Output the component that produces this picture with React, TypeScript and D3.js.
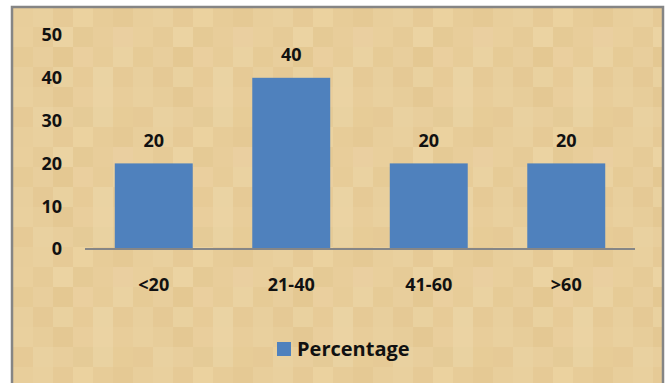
import React from "react";
import * as d3 from "d3";

const categories = ["<20", "21-40", "41-60", ">60"];
const percentage = [20, 40, 20, 20];
const yTicks = [0, 10, 20, 30, 40, 50];
const seriesName = "Percentage";

// parchment tile shades (decoration only)
const tileShades = [
  "#e8ce9b", "#e9d09e", "#e6ca96", "#ebd29f", "#e7cc98", "#e5c994",
  "#e9cf9c", "#e6cb97", "#ebd3a2", "#e5ca95", "#e8cd9a", "#eacfa0",
  "#e6cb96", "#e8ce9c", "#e4c892", "#eacf9e", "#e7cc98", "#ead2a1",
  "#e8cf9d", "#e5c995", "#e9d19f", "#e7cb97", "#ead3a3", "#e6ca96",
  "#e9d09e", "#e7cd9a", "#e4c893", "#e9ce9c", "#ebd3a3", "#e8cd9a",
  "#e6ca96", "#e9d1a0", "#e8ce9c", "#e5cb97", "#e9d2a1", "#e7cc97",
];

const font = "'Open Sans', sans-serif";

export default function App() {
  const W = 666, H = 383;
  const x = d3.scaleBand<string>()
    .domain(categories)
    .range([85, 635])
    .paddingInner(0.433)
    .paddingOuter(0.2165);
  const y = d3.scaleLinear().domain([0, 50]).range([249, 35]);

  return (
    <svg width={W} height={H} style={{ position: "absolute", left: 0, top: 0 }}>
      <defs>
        <pattern id="parch" width={120} height={120} patternUnits="userSpaceOnUse" x={13} y={7}>
          {tileShades.map((c, i) => (
            <rect key={i} x={(i % 6) * 20} y={Math.floor(i / 6) * 20} width={20} height={20} fill={c} />
          ))}
        </pattern>
      </defs>
      <rect x={12} y={7} width={651} height={390} fill="url(#parch)" stroke="#858585" strokeWidth={2.5} />

      {yTicks.map((t) => (
        <text key={t} x={62} y={y(t)} dy="0.36em" textAnchor="end"
          fontFamily={font} fontWeight="bold" fontSize={18} fill="#111">{t}</text>
      ))}

      {percentage.map((v, i) => (
        <g key={categories[i]}>
          <rect x={x(categories[i])} y={y(v)} width={x.bandwidth()} height={y(0) - y(v)} fill="#4f81bd" />
          <text x={(x(categories[i]) as number) + x.bandwidth() / 2} y={y(v) - 23} dy="0.36em"
            textAnchor="middle" fontFamily={font} fontWeight="bold" fontSize={18} fill="#111">{v}</text>
          <text x={(x(categories[i]) as number) + x.bandwidth() / 2} y={285} dy="0.36em"
            textAnchor="middle" fontFamily={font} fontWeight="bold" fontSize={18} fill="#111">{categories[i]}</text>
        </g>
      ))}

      <line x1={85} x2={635} y1={y(0)} y2={y(0)} stroke="#868686" strokeWidth={2} />

      <rect x={277} y={342} width={14} height={14} fill="#4f81bd" />
      <text x={297} y={349} dy="0.36em" fontFamily={font} fontWeight="bold" fontSize={20} fill="#111">{seriesName}</text>
    </svg>
  );
}
